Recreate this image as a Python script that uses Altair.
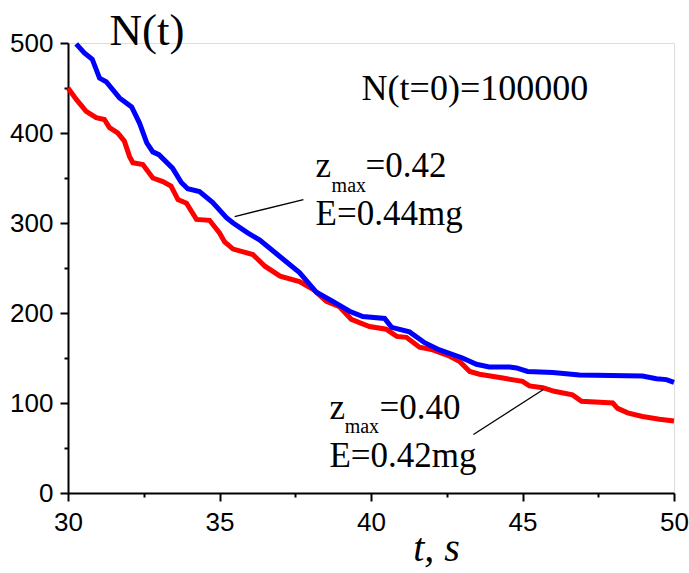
import altair as alt
import pandas as pd

# ---- data ----
blue_t = [30.27, 30.54, 30.8, 31.04, 31.26, 31.7, 32.1, 32.36, 32.6, 32.8, 33.0, 33.45,
          33.74, 33.95, 34.34, 34.77, 35.23, 35.45, 35.93, 36.33, 36.98, 37.64, 38.2,
          38.74, 39.29, 39.73, 40.45, 40.68, 41.27, 41.77, 42.26, 43.02, 43.48, 43.9,
          44.57, 44.8, 45.17, 46.0, 46.88, 48.96, 49.42, 49.75, 50.0]
blue_n = [499, 489, 482, 461, 457, 439, 429, 411, 389, 379, 376, 361,
          345, 338, 335, 323, 306, 300, 289, 281, 263, 245, 223,
          213, 202, 196, 194, 184, 179, 167, 159, 150, 143, 140,
          140, 139, 135, 134, 131, 130, 127, 126, 123]

red_t = [30.0, 30.28, 30.6, 30.93, 31.2, 31.37, 31.64, 31.86, 32.03, 32.14, 32.47, 32.8,
         33.13, 33.4, 33.63, 33.91, 34.24, 34.67, 35.0, 35.17, 35.45, 36.1, 36.5, 37.0,
         37.64, 38.1, 38.53, 38.96, 39.35, 39.95, 40.5, 40.85, 41.17, 41.6, 42.04, 42.6,
         42.93, 43.26, 43.58, 44.3, 45.0, 45.23, 45.67, 46.05, 46.65, 46.95, 47.98, 48.14,
         48.47, 48.96, 49.52, 50.0]
red_n = [450, 437, 424, 417, 415, 406, 400, 391, 374, 367, 365, 350,
         346, 341, 326, 322, 304, 303, 289, 279, 271, 265, 252, 241,
         235, 226, 213, 207, 193, 185, 182, 174, 173, 162, 159, 152,
         146, 135, 132, 128, 124, 119, 117, 113, 109, 102, 100, 94,
         89, 85, 82, 80]

label_text = ["N(t)", "N(t=0)=100000", "z", "max", "=0.42", "E=0.44mg",
              "z", "max", "=0.40", "E=0.42mg"]
label_t = [31.37, 39.69, 38.17, 38.70, 39.82, 38.17, 38.63, 39.13, 40.28, 38.63]
label_n = [498.3, 437.2, 350.6, 333.9, 350.6, 298.3, 81.7, 67.2, 81.7, 29.4]
label_size = [45, 36, 35, 20, 35, 35, 35, 20, 35, 35]

leader_t = [35.50, 43.38]
leader_t2 = [37.77, 45.69]
leader_n = [307.2, 65.0]
leader_n2 = [326.1, 115.0]

x_ticks = [30, 32.5, 35, 37.5, 40, 42.5, 45, 47.5, 50]
y_ticks = [0, 50, 100, 150, 200, 250, 300, 350, 400, 450, 500]

# ---- tables ----
blue_df = pd.DataFrame({"t": blue_t, "n": blue_n})
red_df = pd.DataFrame({"t": red_t, "n": red_n})
lab_df = pd.DataFrame({"t": label_t, "n": label_n, "label": label_text, "fs": label_size})
lead_df = pd.DataFrame({"t": leader_t, "t2": leader_t2, "n": leader_n, "n2": leader_n2})

x_axis = alt.Axis(
    values=x_ticks,
    labelExpr="datum.value % 5 == 0 ? datum.label : ''",
    tickSize={"condition": {"test": "datum.value % 5 != 0", "value": 4}, "value": 8},
    grid=False, domainColor="black", domainWidth=2, tickColor="black", tickWidth=2,
    labelFont="Liberation Sans", labelFontSize=26, labelColor="black", labelPadding=8,
    labelOverlap=False, labelFlush=False,
    title="t, s", titleFont="Liberation Serif", titleFontStyle="italic",
    titleFontWeight="normal", titleFontSize=40, titleColor="black",
    titleX=368, titleY=67, titleAlign="center", titleBaseline="alphabetic",
)
y_axis = alt.Axis(
    values=y_ticks,
    labelExpr="datum.value % 100 == 0 ? datum.label : ''",
    tickSize={"condition": {"test": "datum.value % 100 != 0", "value": 4}, "value": 8},
    grid=False, domainColor="black", domainWidth=2, tickColor="black", tickWidth=2,
    labelFont="Liberation Sans", labelFontSize=26, labelColor="black", labelPadding=7,
    labelOverlap=False, labelFlush=False, title=None,
)

x_scale = alt.Scale(domain=[30, 50], nice=False, zero=False)
y_scale = alt.Scale(domain=[0, 500], nice=False)

X = alt.X("t:Q", scale=x_scale, axis=x_axis)
Y = alt.Y("n:Q", scale=y_scale, axis=y_axis)

red = alt.Chart(red_df).mark_line(color="#ff0000", strokeWidth=5).encode(x=X, y=Y)
blue = alt.Chart(blue_df).mark_line(color="#0000ff", strokeWidth=5).encode(x=X, y=Y)
leads = alt.Chart(lead_df).mark_rule(color="black", strokeWidth=1.3).encode(
    x=X, y=Y, x2="t2:Q", y2="n2:Q")
texts = alt.Chart(lab_df).mark_text(
    font="Liberation Serif", align="left", baseline="alphabetic", color="black"
).encode(x=X, y=Y, text="label:N", size=alt.Size("fs:Q", scale=None, legend=None))

chart = alt.layer(red, blue, leads, texts).properties(
    width=606, height=450,
    autosize=alt.AutoSizeParams(type="none"),
    padding={"left": 68, "top": 43, "right": 15, "bottom": 80},
).configure_view(strokeWidth=0).configure(background="white")

chart.save("out.html", embed_options={"renderer": "svg", "actions": False})
